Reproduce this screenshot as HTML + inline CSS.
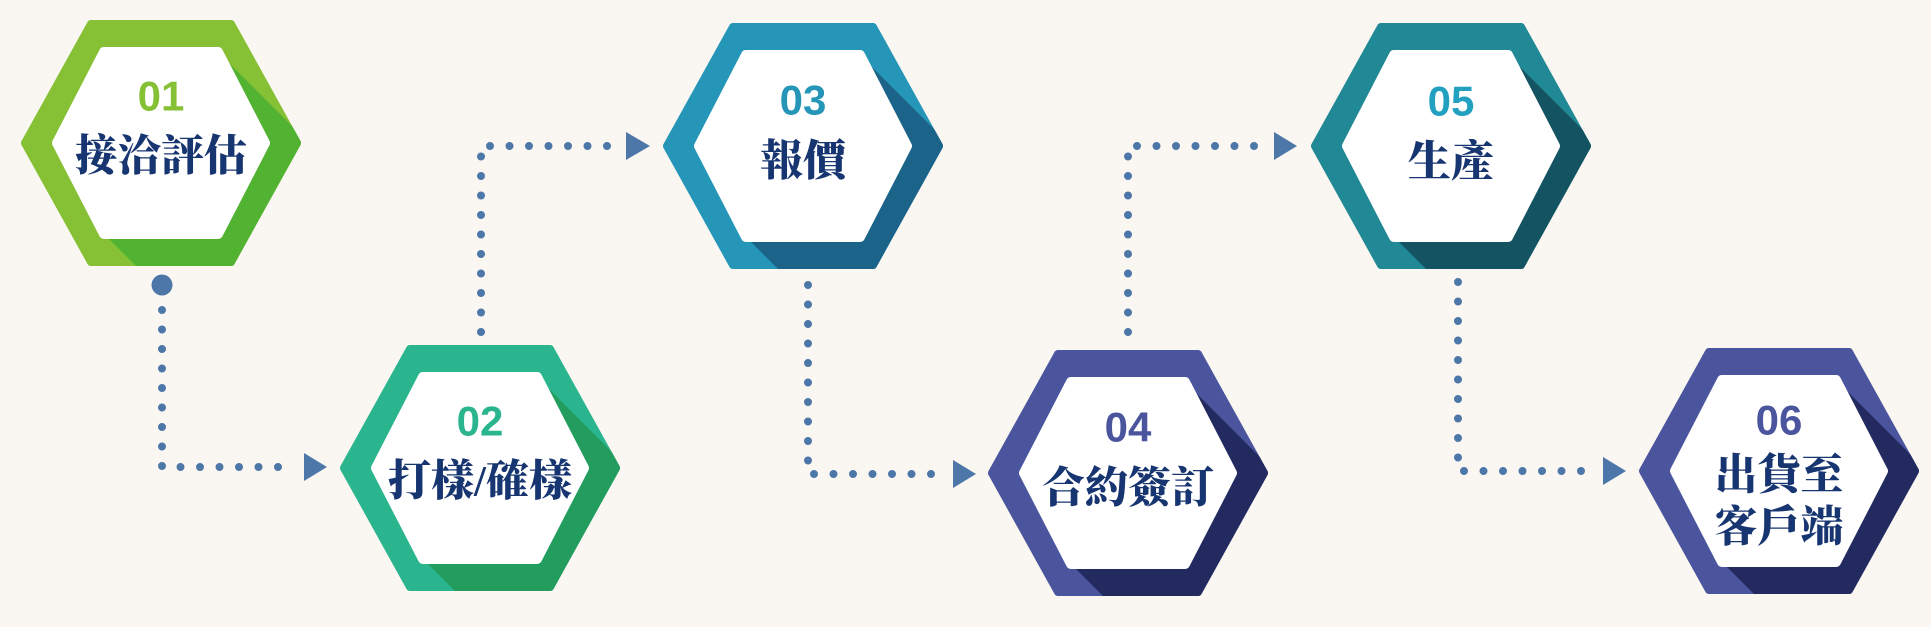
<!DOCTYPE html>
<html><head><meta charset="utf-8"><style>
html,body{margin:0;padding:0;background:#faf7f2;width:1931px;height:627px;overflow:hidden;}
svg{display:block}
.num{font-family:"Liberation Sans",sans-serif;font-weight:bold;font-size:42px;text-anchor:middle;dominant-baseline:central}
.lbl{font-family:"Liberation Serif","Noto Serif CJK TC","Noto Serif CJK SC",serif;font-weight:900;font-size:43px;fill:#173570;text-anchor:middle;dominant-baseline:central}
</style></head><body>
<svg width="1931" height="627" viewBox="0 0 1931 627" xmlns="http://www.w3.org/2000/svg">
<defs>
<mask id="om" maskUnits="userSpaceOnUse" x="-200" y="-200" width="400" height="400"><polygon points="-136,0 -70,-119 70,-119 136,0 70,119 -70,119" fill="#fff" stroke="#fff" stroke-width="8" stroke-linejoin="round"/></mask>
</defs>
<rect width="1931" height="627" fill="#faf7f2"/>

<g stroke="#4d77a8" stroke-width="8" stroke-linecap="round" fill="none" stroke-dasharray="0 19.5">
<path d="M162 310 V467 H290"/>
<path d="M481 332 V146 H612"/>
<path d="M808 285 V474 H938"/>
<path d="M1128 332 V146 H1259"/>
<path d="M1458 282 V471 H1588"/>
</g>
<circle cx="162" cy="285" r="10.5" fill="#4d77a8"/>
<g fill="#4d77a8">
<polygon points="304,453 327,467 304,481"/>
<polygon points="626,132 650,146 626,160"/>
<polygon points="953,460 976,474 953,488"/>
<polygon points="1274,132 1297,146 1274,160"/>
<polygon points="1603,457 1626,471 1603,485"/>
</g>

<g transform="translate(161,143)">
<polygon points="-136,0 -70,-119 70,-119 136,0 70,119 -70,119" fill="#86c035" stroke="#86c035" stroke-width="8" stroke-linejoin="round"/>
<polygon mask="url(#om)" points="57,-91 357,209 404,300 357,391 243,391 -57,91" fill="#52b232"/>
<polygon points="-104,0 -57,-91 57,-91 104,0 57,91 -57,91" fill="#fff" stroke="#fff" stroke-width="10" stroke-linejoin="round"/>
<text class="num" y="-47" fill="#86c035">01</text>
<text class="lbl" y="14">接洽評估</text>
</g>

<g transform="translate(480,468)">
<polygon points="-136,0 -70,-119 70,-119 136,0 70,119 -70,119" fill="#2bb58e" stroke="#2bb58e" stroke-width="8" stroke-linejoin="round"/>
<polygon mask="url(#om)" points="57,-91 357,209 404,300 357,391 243,391 -57,91" fill="#229d5e"/>
<polygon points="-104,0 -57,-91 57,-91 104,0 57,91 -57,91" fill="#fff" stroke="#fff" stroke-width="10" stroke-linejoin="round"/>
<text class="num" y="-47" fill="#2bb58e">02</text>
<text class="lbl" y="14">打樣/確樣</text>
</g>

<g transform="translate(803,146)">
<polygon points="-136,0 -70,-119 70,-119 136,0 70,119 -70,119" fill="#2596b8" stroke="#2596b8" stroke-width="8" stroke-linejoin="round"/>
<polygon mask="url(#om)" points="57,-91 357,209 404,300 357,391 243,391 -57,91" fill="#1b6389"/>
<polygon points="-104,0 -57,-91 57,-91 104,0 57,91 -57,91" fill="#fff" stroke="#fff" stroke-width="10" stroke-linejoin="round"/>
<text class="num" y="-46" fill="#2596b8">03</text>
<text class="lbl" y="16">報價</text>
</g>

<g transform="translate(1128,473)">
<polygon points="-136,0 -70,-119 70,-119 136,0 70,119 -70,119" fill="#4b559e" stroke="#4b559e" stroke-width="8" stroke-linejoin="round"/>
<polygon mask="url(#om)" points="57,-91 357,209 404,300 357,391 243,391 -57,91" fill="#222a60"/>
<polygon points="-104,0 -57,-91 57,-91 104,0 57,91 -57,91" fill="#fff" stroke="#fff" stroke-width="10" stroke-linejoin="round"/>
<text class="num" y="-46" fill="#4b559e">04</text>
<text class="lbl" y="16">合約簽訂</text>
</g>

<g transform="translate(1451,146)">
<polygon points="-136,0 -70,-119 70,-119 136,0 70,119 -70,119" fill="#218895" stroke="#218895" stroke-width="8" stroke-linejoin="round"/>
<polygon mask="url(#om)" points="57,-91 357,209 404,300 357,391 243,391 -57,91" fill="#145462"/>
<polygon points="-104,0 -57,-91 57,-91 104,0 57,91 -57,91" fill="#fff" stroke="#fff" stroke-width="10" stroke-linejoin="round"/>
<text class="num" y="-45" fill="#22a0c0">05</text>
<text class="lbl" y="17">生產</text>
</g>

<g transform="translate(1779,471)">
<polygon points="-136,0 -70,-119 70,-119 136,0 70,119 -70,119" fill="#4b559e" stroke="#4b559e" stroke-width="8" stroke-linejoin="round"/>
<polygon mask="url(#om)" points="57,-91 357,209 404,300 357,391 243,391 -57,91" fill="#222a60"/>
<polygon points="-104,0 -57,-91 57,-91 104,0 57,91 -57,91" fill="#fff" stroke="#fff" stroke-width="10" stroke-linejoin="round"/>
<text class="num" y="-51" fill="#4b559e">06</text>
<text class="lbl" y="5">出貨至</text>
<text class="lbl" y="57">客戶端</text>
</g>
</svg>
</body></html>
